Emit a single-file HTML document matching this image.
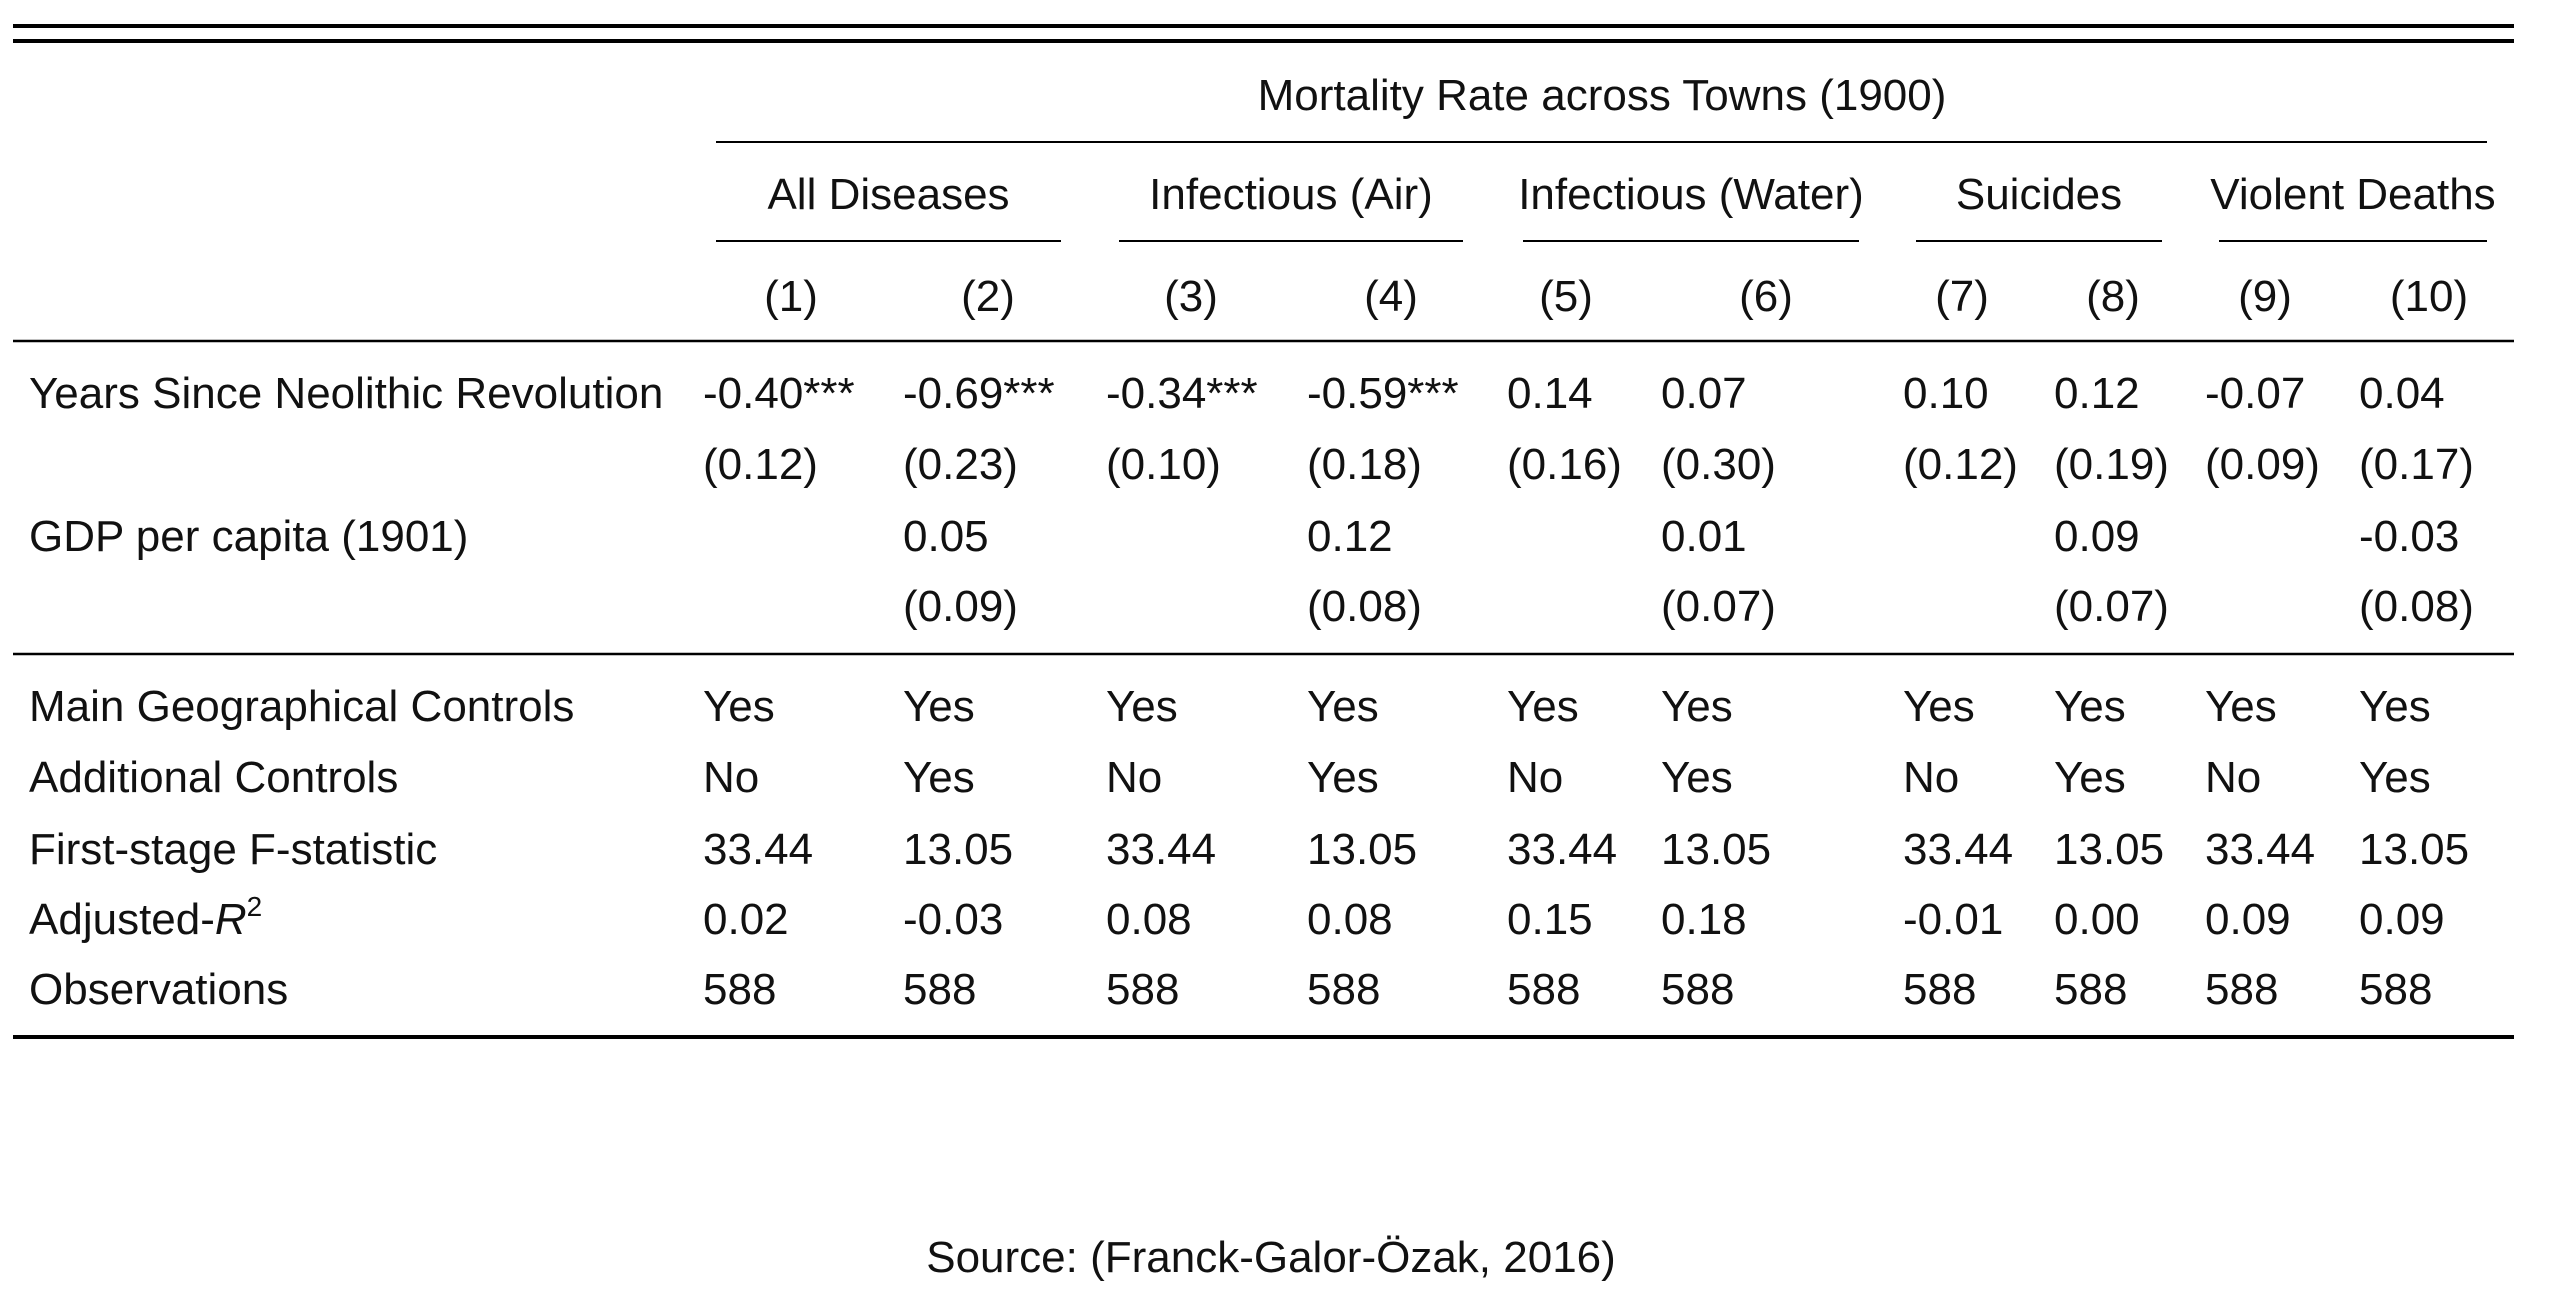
<!DOCTYPE html>
<html><head><meta charset="utf-8"><style>
html,body{margin:0;padding:0;background:#fff;}
svg{display:block;}
text{font-family:"Liberation Sans",sans-serif;font-size:44px;fill:#111;}
</style></head><body>
<svg id="t" width="2564" height="1296" viewBox="0 0 2564 1296" xmlns="http://www.w3.org/2000/svg"></svg>
<script>
const colX=[703,903,1106,1307,1507,1661,1903,2054,2205,2359];
const colNumX=[791,988,1191,1391,1566,1766,1962,2113,2265,2429];
const groups=["All Diseases","Infectious (Air)","Infectious (Water)","Suicides","Violent Deaths"];
const groupSpans=[[716,1061],[1119,1463],[1523,1859],[1916,2162],[2219,2487]];
const coefRows=[
 ["Years Since Neolithic Revolution",["-0.40***","-0.69***","-0.34***","-0.59***","0.14","0.07","0.10","0.12","-0.07","0.04"]],
 ["",["(0.12)","(0.23)","(0.10)","(0.18)","(0.16)","(0.30)","(0.12)","(0.19)","(0.09)","(0.17)"]],
 ["GDP per capita (1901)",["","0.05","","0.12","","0.01","","0.09","","-0.03"]],
 ["",["","(0.09)","","(0.08)","","(0.07)","","(0.07)","","(0.08)"]]
];
const statRows=[
 ["Main Geographical Controls",["Yes","Yes","Yes","Yes","Yes","Yes","Yes","Yes","Yes","Yes"]],
 ["Additional Controls",["No","Yes","No","Yes","No","Yes","No","Yes","No","Yes"]],
 ["First-stage F-statistic",["33.44","13.05","33.44","13.05","33.44","13.05","33.44","13.05","33.44","13.05"]],
 ["ADJR2",["0.02","-0.03","0.08","0.08","0.15","0.18","-0.01","0.00","0.09","0.09"]],
 ["Observations",["588","588","588","588","588","588","588","588","588","588"]]
];
const coefY=[408,479,551,621];
const statY=[721,792,864,934,1004];
const svg=document.getElementById('t');
const NS="http://www.w3.org/2000/svg";
function line(x1,x2,y,w,name){
 const l=document.createElementNS(NS,'line');
 l.setAttribute('x1',x1);l.setAttribute('x2',x2);l.setAttribute('y1',y);l.setAttribute('y2',y);
 l.setAttribute('stroke','#000');l.setAttribute('stroke-width',w);
 
 
 svg.appendChild(l);
}
function txt(x,y,s,anchor,name){
 const t=document.createElementNS(NS,'text');
 t.setAttribute('x',x);t.setAttribute('y',y);
 if(anchor)t.setAttribute('text-anchor',anchor);
 t.textContent=s;
 
 
 svg.appendChild(t);return t;
}
line(13,2514,26,4,'top-rule');
line(13,2514,41,4,'top-rule-2');
txt(1602,110,'Mortality Rate across Towns (1900)','middle','header-title');
line(716,2487,142,2,'header-cmidrule');
groups.forEach((g,i)=>{
 const s=groupSpans[i];
 txt((s[0]+s[1])/2,209,g,'middle','group-header');
 line(s[0],s[1],241,2,'group-cmidrule');
});
colNumX.forEach((x,i)=>txt(x,311,'('+(i+1)+')','middle','column-number'));
line(13,2514,341,2.5,'header-rule');
coefRows.forEach((r,i)=>{
 if(r[0])txt(29,coefY[i],r[0],null,'row-label');
 r[1].forEach((v,j)=>{if(v)txt(colX[j],coefY[i],v,null,'cell-value');});
});
line(13,2514,654,2.5,'mid-rule');
statRows.forEach((r,i)=>{
 if(r[0]==="ADJR2"){
  const t=txt(29,statY[i],'Adjusted-',null,'row-label');
  const a=document.createElementNS(NS,'tspan');a.setAttribute('font-style','italic');a.textContent='R';t.appendChild(a);
  const b=document.createElementNS(NS,'tspan');b.setAttribute('font-size','28');b.setAttribute('dy','-18');b.textContent='2';t.appendChild(b);
 } else txt(29,statY[i],r[0],null,'row-label');
 r[1].forEach((v,j)=>txt(colX[j],statY[i],v,null,'cell-value'));
});
line(13,2514,1037,4,'bottom-rule');
txt(1271,1272,'Source: (Franck-Galor-Özak, 2016)','middle','source-note');
</script>
</body></html>
